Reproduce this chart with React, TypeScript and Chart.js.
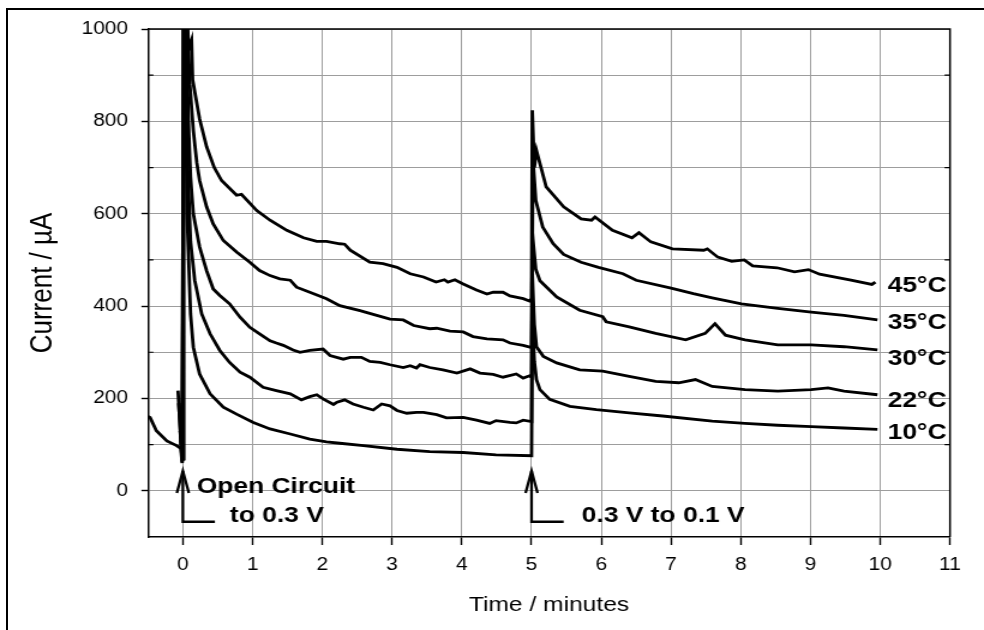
import React, { useEffect, useRef } from 'react';
import { Chart, registerables } from 'chart.js';

Chart.register(...registerables);

// ---- data: [time (min), current (µA)] ----
const series45: [number, number][] = [
  [-0.07, 217], [-0.01, 62], [0.02, 1000], [0.06, 1000], [0.09, 960], [0.125, 976], [0.14, 890], [0.24, 805],
  [0.34, 745], [0.45, 700], [0.555, 672], [0.77, 640], [0.84, 642], [1.06, 607], [1.25, 586], [1.49, 564],
  [1.73, 548], [1.92, 540], [2.06, 540], [2.25, 535], [2.32, 534], [2.4, 521], [2.68, 495], [2.87, 492],
  [3.07, 484], [3.26, 470], [3.45, 463], [3.63, 452], [3.75, 457], [3.8, 452], [3.9, 457], [4.02, 448],
  [4.21, 435], [4.36, 426], [4.45, 430], [4.59, 430], [4.69, 422], [4.88, 416], [4.97, 411], [5.0, 416],
  [5.01, 824], [5.04, 700], [5.07, 737], [5.21, 658], [5.46, 615], [5.71, 589], [5.86, 586], [5.91, 593],
  [6.16, 564], [6.44, 548], [6.54, 559], [6.71, 539], [7.02, 524], [7.47, 521], [7.52, 524], [7.67, 506],
  [7.87, 497], [8.05, 500], [8.17, 487], [8.52, 483], [8.77, 474], [8.97, 479], [9.13, 469], [9.58, 456],
  [9.88, 447], [9.93, 452],
];
const series35: [number, number][] = [
  [-0.06, 190], [-0.01, 65], [0.01, 1000], [0.07, 1000], [0.1, 880], [0.15, 780], [0.2, 710], [0.24, 672],
  [0.34, 615], [0.435, 578], [0.58, 542], [0.77, 517], [0.96, 495], [1.1, 477], [1.25, 466], [1.39, 459],
  [1.54, 456], [1.63, 441], [1.82, 430], [2.06, 416], [2.25, 401], [2.54, 390], [2.78, 380], [2.97, 372],
  [3.16, 370], [3.31, 358], [3.54, 351], [3.64, 352], [3.83, 346], [4.02, 344], [4.16, 334], [4.36, 329],
  [4.59, 327], [4.69, 320], [4.88, 315], [5.0, 310], [5.02, 720], [5.06, 629], [5.16, 571], [5.31, 535],
  [5.46, 512], [5.71, 495], [5.96, 484], [6.31, 470], [6.5, 456], [7.0, 439], [7.32, 427], [7.59, 418],
  [8.01, 405], [8.53, 395], [9.01, 387], [9.48, 380], [9.96, 370],
];
const series30: [number, number][] = [
  [-0.04, 130], [0.0, 68], [0.01, 1000], [0.05, 1000], [0.08, 800], [0.11, 680], [0.15, 600], [0.24, 528],
  [0.34, 477], [0.435, 437], [0.53, 423], [0.67, 405], [0.82, 376], [0.96, 354], [1.1, 340], [1.25, 325],
  [1.34, 320], [1.44, 315], [1.58, 305], [1.68, 300], [1.82, 304], [2.01, 307], [2.11, 293], [2.3, 285],
  [2.4, 289], [2.56, 289], [2.68, 280], [2.83, 278], [2.97, 273], [3.16, 267], [3.26, 271], [3.35, 266],
  [3.4, 273], [3.54, 267], [3.73, 262], [3.93, 255], [4.12, 264], [4.26, 255], [4.45, 252], [4.59, 246],
  [4.78, 253], [4.88, 244], [4.97, 249], [5.0, 246], [5.01, 560], [5.06, 480], [5.12, 455], [5.36, 420],
  [5.69, 391], [6.02, 377], [6.07, 366], [6.4, 355], [6.78, 341], [7.21, 327], [7.49, 341], [7.63, 362],
  [7.78, 337], [8.06, 327], [8.53, 316], [9.01, 316], [9.48, 312], [9.96, 305],
];
const series22: [number, number][] = [
  [-0.03, 110], [0.0, 70], [0.01, 1000], [0.04, 1000], [0.07, 700], [0.11, 540], [0.17, 456], [0.27, 383],
  [0.39, 340], [0.53, 304], [0.67, 278], [0.82, 257], [0.96, 246], [1.15, 224], [1.34, 217], [1.54, 210],
  [1.7, 197], [1.82, 204], [1.92, 208], [2.01, 199], [2.16, 187], [2.21, 192], [2.32, 197], [2.44, 188],
  [2.59, 181], [2.73, 175], [2.85, 188], [2.97, 184], [3.07, 174], [3.21, 168], [3.35, 170], [3.45, 170],
  [3.64, 165], [3.78, 158], [4.02, 159], [4.21, 153], [4.4, 146], [4.49, 152], [4.69, 148], [4.78, 147],
  [4.88, 153], [5.0, 150], [5.01, 470], [5.04, 360], [5.07, 312], [5.17, 291], [5.36, 277], [5.69, 262],
  [6.02, 259], [6.4, 248], [6.78, 237], [7.11, 234], [7.35, 241], [7.59, 226], [8.06, 219], [8.53, 216],
  [9.01, 219], [9.25, 223], [9.48, 216], [9.96, 208],
];
const series10: [number, number][] = [
  [-0.5, 161], [-0.47, 159], [-0.38, 130], [-0.23, 108], [-0.09, 98], [-0.03, 92], [-0.01, 60], [0.01, 1000],
  [0.03, 1000], [0.06, 600], [0.11, 383], [0.15, 311], [0.24, 253], [0.39, 210], [0.58, 181], [0.77, 166],
  [1.01, 148], [1.25, 134], [1.54, 123], [1.82, 112], [2.06, 106], [2.25, 103], [2.59, 98], [3.07, 90],
  [3.54, 85], [4.02, 83], [4.49, 78], [5.0, 76], [5.01, 380], [5.04, 280], [5.07, 241], [5.12, 219],
  [5.26, 198], [5.55, 183], [5.93, 176], [6.4, 169], [6.88, 162], [7.59, 151], [8.06, 146], [8.53, 142],
  [9.01, 139], [9.48, 136], [9.96, 133],
];

const seriesNames = ['45°C', '35°C', '30°C', '22°C', '10°C'];
const seriesData = [series45, series35, series30, series22, series10];

const xTickValues = [0, 1, 2, 3, 4, 5, 6, 7, 8, 9, 10, 11];
const yTickValues = [0, 100, 200, 300, 400, 500, 600, 700, 800, 900, 1000];
const yLabelStep = 200;

// annotation anchors (data units)
const arrowTimes = [0, 5];
const arrowTipValue = 43;
const arrowFootValue = -67;
const arrowFootLength = 0.46;
const noteTexts = ['Open Circuit', 'to 0.3 V', '0.3 V to 0.1 V'];
const noteTimes = [0.198, 0.675, 5.72];
const noteValues = [-5.4, -67, -67];
const seriesLabelTime = 10.105;
const seriesLabelValues = [429.5, 351.4, 273.3, 182.2, 112.8];

// ---- layout ----
const STRETCH = 1.2;
const OUT_W = 984;
const OUT_H = 630;
const CANVAS_W = Math.round(OUT_W / STRETCH);
const CANVAS_H = OUT_H;
const FONT = '"Liberation Sans", Arial, Helvetica, sans-serif';

const notesPlugin = {
  id: 'notesPlugin',
  afterDraw(chart: any) {
    const { ctx, chartArea: a, scales } = chart;
    const xs = scales.x;
    const ys = scales.y;
    ctx.save();
    ctx.strokeStyle = '#000';
    ctx.lineWidth = 1.5;
    ctx.beginPath();
    ctx.moveTo(a.left, a.top);
    ctx.lineTo(a.right, a.top);
    ctx.lineTo(a.right, a.bottom);
    ctx.stroke();

    ctx.lineWidth = 1.2;
    for (const v of yTickValues) {
      if (v % yLabelStep === 0) continue;
      const py = ys.getPixelForValue(v);
      ctx.beginPath();
      ctx.moveTo(a.left, py);
      ctx.lineTo(a.left + 4.5, py);
      ctx.moveTo(a.right, py);
      ctx.lineTo(a.right - 4.5, py);
      ctx.stroke();
    }

    ctx.lineWidth = 2.3;
    ctx.lineJoin = 'miter';
    for (const t of arrowTimes) {
      const px = xs.getPixelForValue(t);
      const tip = ys.getPixelForValue(arrowTipValue);
      const foot = ys.getPixelForValue(arrowFootValue);
      const footEnd = xs.getPixelForValue(t + arrowFootLength);
      ctx.beginPath();
      ctx.moveTo(px, tip);
      ctx.lineTo(px, foot);
      ctx.lineTo(footEnd, foot);
      ctx.stroke();
      ctx.beginPath();
      ctx.moveTo(px - 5, tip + 22);
      ctx.lineTo(px, tip);
      ctx.lineTo(px + 5, tip + 22);
      ctx.stroke();
    }

    ctx.fillStyle = '#000';
    ctx.font = `bold 22px ${FONT}`;
    ctx.textAlign = 'left';
    ctx.textBaseline = 'alphabetic';
    noteTexts.forEach((txt, i) => {
      ctx.fillText(txt, xs.getPixelForValue(noteTimes[i]), ys.getPixelForValue(noteValues[i]));
    });
    seriesNames.forEach((name, i) => {
      ctx.fillText(name, xs.getPixelForValue(seriesLabelTime), ys.getPixelForValue(seriesLabelValues[i]));
    });
    ctx.restore();
  },
};

export default function App() {
  const canvasRef = useRef<HTMLCanvasElement | null>(null);

  useEffect(() => {
    const canvas = canvasRef.current;
    if (!canvas) return;
    const chart = new Chart(canvas, {
      type: 'line',
      data: {
        datasets: seriesData.map((s, i) => ({
          label: seriesNames[i],
          data: s.map(([x, y]) => ({ x, y })),
          borderColor: '#000',
          backgroundColor: '#000',
          borderWidth: 2.8,
          pointRadius: 0,
          tension: 0,
          fill: false,
        })),
      },
      options: {
        responsive: false,
        animation: false,
        devicePixelRatio: 1,
        layout: { padding: { top: 29, right: CANVAS_W - 950 / STRETCH, left: 0, bottom: 0 } },
        plugins: { legend: { display: false }, tooltip: { enabled: false } },
        scales: {
          x: {
            type: 'linear',
            min: -0.5,
            max: 11,
            afterBuildTicks: (s: any) => {
              s.ticks = xTickValues.map((v) => ({ value: v }));
            },
            afterFit: (s: any) => {
              s.height = CANVAS_H - 537;
            },
            grid: { color: '#9d9d9d', lineWidth: 1, tickLength: 8, tickColor: '#000', tickWidth: 1.4 },
            border: { color: '#000', width: 1.5 },
            ticks: {
              color: '#000',
              font: { family: FONT, size: 17.5 },
              padding: 10,
              maxRotation: 0,
              autoSkip: false,
              callback: (v: any) => String(v),
            },
            title: {
              display: true,
              text: 'Time / minutes',
              color: '#000',
              font: { family: FONT, size: 20.5 },
              padding: { top: 0, bottom: 12 },
            },
          },
          y: {
            type: 'linear',
            min: -100,
            max: 1000,
            afterBuildTicks: (s: any) => {
              s.ticks = yTickValues.map((v) => ({ value: v }));
            },
            afterFit: (s: any) => {
              s.width = 148 / STRETCH;
            },
            grid: {
              color: '#9d9d9d',
              lineWidth: 1,
              tickLength: 5.5,
              tickWidth: 1.4,
              tickColor: (c: any) => (c.tick && c.tick.value % yLabelStep === 0 ? '#000' : 'rgba(0,0,0,0)'),
            },
            border: { color: '#000', width: 1.5 },
            ticks: {
              color: '#000',
              font: { family: FONT, size: 17.5 },
              padding: 11,
              autoSkip: false,
              callback: (v: any) => (Number(v) % yLabelStep === 0 ? String(v) : ''),
            },
            title: {
              display: true,
              text: 'Current / µA',
              color: '#000',
              font: { family: FONT, size: 26 },
              padding: { top: 20, bottom: 0 },
            },
          },
        },
      },
      plugins: [notesPlugin],
    } as any);
    return () => chart.destroy();
  }, []);

  return (
    <div
      style={{
        position: 'fixed',
        left: 0,
        top: 0,
        width: OUT_W,
        height: OUT_H,
        overflow: 'hidden',
        background: '#fff',
      }}
    >
      <canvas
        ref={canvasRef}
        width={CANVAS_W}
        height={CANVAS_H}
        style={{ position: 'absolute', left: 0, top: 0, width: OUT_W, height: OUT_H, display: 'block' }}
      />
      <div
        style={{
          position: 'absolute',
          left: 6,
          top: 8,
          width: OUT_W + 20,
          height: OUT_H + 20,
          borderLeft: '2px solid #000',
          borderTop: '2px solid #000',
          pointerEvents: 'none',
        }}
      />
    </div>
  );
}
